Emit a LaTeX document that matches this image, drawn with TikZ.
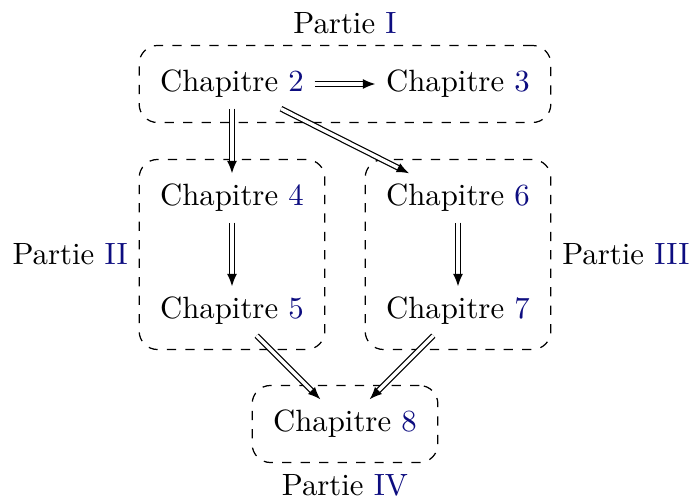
\documentclass[tikz,border=0pt]{standalone}
\usetikzlibrary{arrows.meta,fit}
\definecolor{numblue}{rgb}{0.05,0.05,0.5}
\newcommand{\chap}[1]{Chapitre \textcolor{numblue}{#1}}
\newcommand{\partie}[1]{Partie \textcolor{numblue}{#1}}
\begin{document}
\begin{tikzpicture}[x=0.325pt,y=-0.325pt,
  chapnode/.style={inner sep=3.33pt},
  partbox/.style={draw,dashed,rounded corners=6pt,inner xsep=3.3pt,inner ysep=4.5pt},
  link/.style={-{Latex[length=4pt,width=3.2pt]},double,double distance=1.1pt,thin}]
  \useasboundingbox (0,0) rectangle (692,500);
  % chapters
  \node[chapnode] (c2) at (232,84) {\chap{2}};
  \node[chapnode] (c3) at (458,84) {\chap{3}};
  \node[chapnode] (c4) at (232,198) {\chap{4}};
  \node[chapnode] (c5) at (232,311) {\chap{5}};
  \node[chapnode] (c6) at (458,198) {\chap{6}};
  \node[chapnode] (c7) at (458,311) {\chap{7}};
  \node[chapnode] (c8) at (345,424) {\chap{8}};
  % parts
  \node[partbox,fit=(c2)(c3)] (p1) {};
  \node[partbox,fit=(c4)(c5)] (p2) {};
  \node[partbox,fit=(c6)(c7)] (p3) {};
  \node[partbox,fit=(c8)] (p4) {};
  \node[anchor=south] (l1) at (p1.north) {\partie{I}};
  \node[anchor=east] (l2) at (p2.west) {\partie{II}};
  \node[anchor=west] (l3) at (p3.east) {\partie{III}};
  \node[anchor=north] (l4) at (p4.south) {\partie{IV}};
  % dependencies
  \draw[link] (c2) -- (c3);
  \draw[link] (c2) -- (c4);
  \draw[link] (c2) -- (c6);
  \draw[link] (c4) -- (c5);
  \draw[link] (c6) -- (c7);
  \draw[link] (c5) -- (c8);
  \draw[link] (c7) -- (c8);
\end{tikzpicture}
\end{document}
